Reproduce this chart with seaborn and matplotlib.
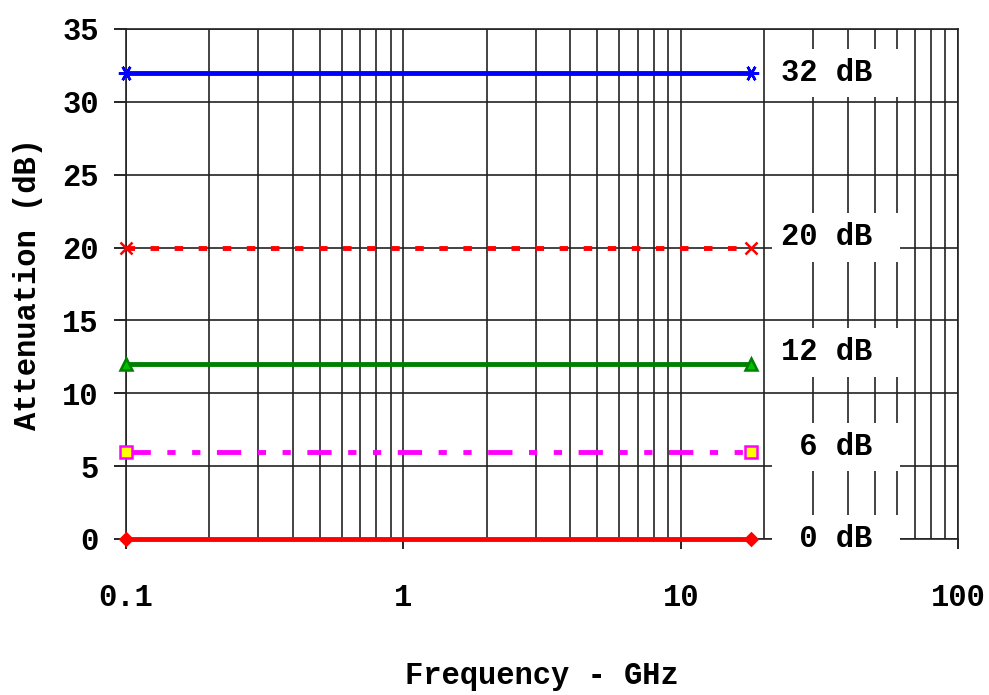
import numpy as np
import pandas as pd
import seaborn as sns
import matplotlib.pyplot as plt

# attenuator pads, flat over the band 0.1 - 18 GHz
freq_ghz = [0.1, 18]
atten_db = [0, 6, 12, 20, 32]
pad_labels = [' 0 dB ', ' 6 dB ', '12 dB ', '20 dB ', '32 dB ']
label_y = [0.0, 6.3, 12.8, 20.7, 32.0]

line_colors = ['#ff0000', '#ff00ff', '#008000', '#ff0000', '#0000ff']
line_markers = ['D', 's', '^', 'x', (6, 2, 90)]
marker_faces = ['#ff0000', '#ffff00', '#00c000', '#ff0000', '#0000ff']
marker_sizes = [6, 8, 9, 9, 11]
line_styles = ['-', (0, (5.0, 3.4, 1.7, 3.4, 1.7, 3.4)), '-', (0, (1.75, 3.2)), '-']

xticks = [0.1, 1, 10, 100]
xtick_labels = ['0.1', '1', '10', '100']
yticks = [0, 5, 10, 15, 20, 25, 30, 35]

plt.rcParams['font.family'] = ['Liberation Mono', 'DejaVu Sans Mono']
plt.rcParams['font.weight'] = 'bold'
plt.rcParams['font.size'] = 22

fig = plt.figure(figsize=(9.89, 6.95), dpi=100)
ax = fig.add_axes([0.1274, 0.2245, 0.8413, 0.7338])

for lvl, c, m, mfc, ms, ls in zip(atten_db, line_colors, line_markers,
                                  marker_faces, marker_sizes, line_styles):
    df = pd.DataFrame({'freq': freq_ghz, 'att': [lvl] * len(freq_ghz)})
    sns.lineplot(data=df, x='freq', y='att', ax=ax, color=c, lw=3.5,
                 linestyle=ls, marker=m, markersize=ms,
                 markerfacecolor=mfc, markeredgecolor=c, markeredgewidth=1.8,
                 dash_capstyle='butt', zorder=5, clip_on=False)

ax.set_xscale('log')
ax.set_xlim(0.1, 100)
ax.set_ylim(0, 35)
ax.set_xticks(xticks, labels=xtick_labels)
ax.set_yticks(yticks)
ax.tick_params(axis='x', which='major', direction='out', length=7.5, width=1.2,
               pad=24, colors='black')
ax.tick_params(axis='x', which='minor', length=0)
ax.tick_params(axis='y', direction='out', length=8.5, width=1.2, pad=11)

ax.grid(True, which='both', axis='x', color='#222222', lw=1.2)
ax.grid(True, which='major', axis='y', color='#222222', lw=1.2)
for sp in ax.spines.values():
    sp.set_color('#222222')
    sp.set_linewidth(1.2)

for txt, ty in zip(pad_labels, label_y):
    ax.text(23, ty, txt, ha='left', va='center', fontsize=22, fontweight='bold',
            zorder=4, bbox=dict(boxstyle='square,pad=0.3', fc='white', ec='none'))

ax.set_xlabel('Frequency - GHz', fontsize=22, fontweight='bold', labelpad=35)
ax.set_ylabel('Attenuation (dB)', fontsize=22, fontweight='bold', labelpad=14)

plt.savefig('out.png', dpi=100)
